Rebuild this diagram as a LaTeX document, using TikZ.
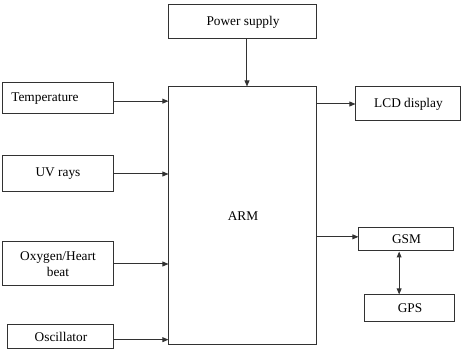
\documentclass[tikz,border=0pt]{standalone}
\usepackage{fontspec}
\setmainfont{Liberation Serif}
\definecolor{mydarkgray}{RGB}{50, 50, 50}
\usepackage{tikz}
\usetikzlibrary{arrows.meta}
\tikzset{every picture/.style={line width=0.75pt}}
\tikzset{
  blockbox/.style={draw=mydarkgray, inner sep=0pt, font=\fontsize{10}{12}\selectfont, align=center},
  sigline/.style={draw=mydarkgray, -{Triangle[length=4.5pt,width=3.6pt]}}
}

\begin{document}
\begin{tikzpicture}[x=0.75pt,y=0.75pt,yscale=-1,xscale=1]
\useasboundingbox (0,0) rectangle (462,353);
%Shape: Rectangle [id:power]
\node [blockbox, minimum width=111pt, minimum height=25.5pt] (power) at (243,22) {Power supply};
%Shape: Rectangle [id:arm]
\node [blockbox, minimum width=111pt, minimum height=193.5pt] (arm) at (243,216) {ARM};
%Shape: Rectangle [id:temp]
\node [blockbox, minimum width=84pt, minimum height=23.25pt, text width=70pt, align=left] (temp) at (58,98.5) {Temperature};
%Shape: Rectangle [id:uv]
\node [blockbox, minimum width=84pt, minimum height=27pt] (uv) at (58,174) {UV rays};
%Shape: Rectangle [id:oxy]
\node [blockbox, minimum width=84pt, minimum height=33pt] (oxy) at (58,264) {Oxygen/Heart\\beat};
%Shape: Rectangle [id:osc]
\node [blockbox, minimum width=79.5pt, minimum height=18pt] (osc) at (61,337) {Oscillator};
%Shape: Rectangle [id:lcd]
\node [blockbox, minimum width=78.75pt, minimum height=25.5pt] (lcd) at (408.5,104) {LCD display};
%Shape: Rectangle [id:gsm]
\node [blockbox, minimum width=71.25pt, minimum height=17.25pt] (gsm) at (406.5,239.5) {GSM};
%Shape: Rectangle [id:gps]
\node [blockbox, minimum width=67.5pt, minimum height=20.25pt] (gps) at (410,308.5) {GPS};

%Straight Lines [id:power-arm]
\draw [sigline] ([xshift=3pt]power.south) -- ([xshift=3pt]arm.north) ;
%Straight Lines [id:inputs]
\draw [sigline] ([yshift=2pt]temp.east) -- ([yshift=2pt]temp.east -| arm.west) ;
\draw [sigline] (uv.east) -- (uv.east -| arm.west) ;
\draw [sigline] (oxy.east) -- (oxy.east -| arm.west) ;
\draw [sigline] ([yshift=2pt]osc.east) -- ([yshift=2pt]osc.east -| arm.west) ;
%Straight Lines [id:outputs]
\draw [sigline] (lcd.west -| arm.east) -- (lcd.west) ;
\draw [sigline] ([yshift=-2pt]gsm.west -| arm.east) -- ([yshift=-2pt]gsm.west) ;
%Straight Lines [id:gsm-gps]
\draw [sigline, {Triangle[length=4.5pt,width=3.6pt]}-{Triangle[length=4.5pt,width=3.6pt]}] ([xshift=-5.5pt]gsm.south) -- ([xshift=-5.5pt]gsm.south |- gps.north) ;
\end{tikzpicture}
\end{document}
